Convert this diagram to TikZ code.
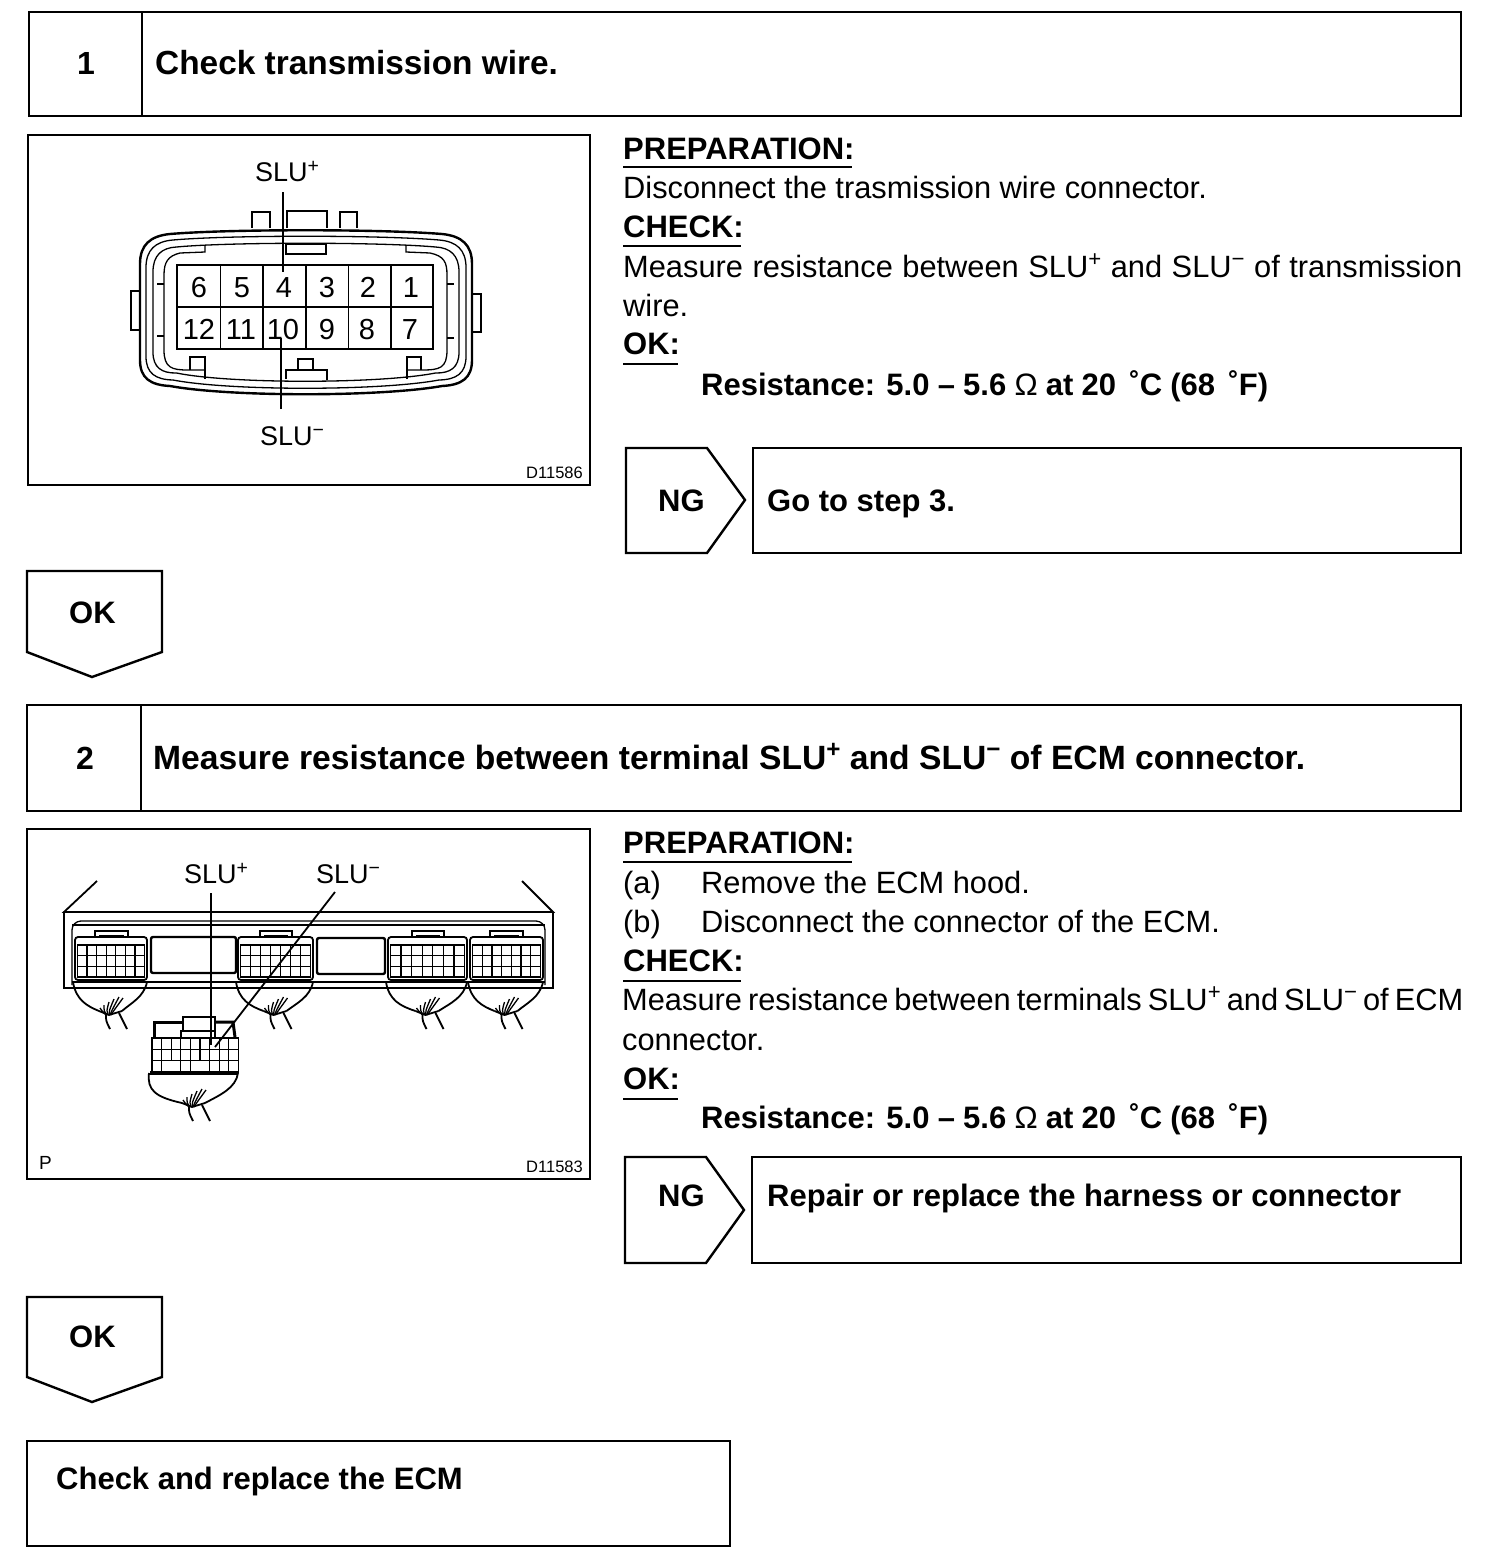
\documentclass[tikz,border=0pt]{standalone}
\usepackage{fontspec}
\setmainfont{Liberation Sans}
\newcommand{\slup}{SLU\raisebox{.33em}{\fontsize{.72em}{1em}\selectfont +}}
\newcommand{\slum}{SLU\raisebox{.33em}{\fontsize{.72em}{1em}\selectfont −}}
\newcommand{\ohm}{{\mdseries Ω}}
\tikzset{
  ln/.style={draw=black,line width=2.4pt},
  thin ln/.style={draw=black,line width=1.8pt},
  fine/.style={draw=black,line width=1.3pt},
  boxn/.style={draw=black,line width=2.4pt,inner sep=0pt,outer sep=0pt,anchor=north west},
  head/.style={anchor=base west,inner sep=0pt,font=\bfseries\fontsize{33.4}{38}\selectfont},
  headb/.style={anchor=base west,inner sep=0pt,font=\bfseries\fontsize{33.65}{38}\selectfont},
  num/.style={anchor=base,inner sep=0pt,font=\bfseries\fontsize{32}{36}\selectfont},
  body/.style={anchor=base west,inner sep=0pt,font=\fontsize{30.8}{36}\selectfont},
  bodyb/.style={anchor=base west,inner sep=0pt,font=\bfseries\fontsize{31}{36}\selectfont},
  pinno/.style={anchor=base,inner sep=0pt,font=\fontsize{29}{34}\selectfont},
  lab/.style={anchor=base,inner sep=0pt,font=\fontsize{27}{32}\selectfont},
  code/.style={anchor=base east,inner sep=0pt,font=\fontsize{16.5}{20}\selectfont},
  rule/.style={draw=black,line width=2pt},
}
% shell outline of the large connector, inset by #1
\newcommand{\shell}[2]{%
  \draw[#2] ({140+#1},{264+#1*.6}) .. controls ({140+#1},{245+#1*.8}) and ({150+#1*.9},{236+#1*.9}) .. ({170+#1*.5},{234+#1})
   .. controls ({230},{229+#1}) and ({380},{229+#1}) .. ({442-#1*.5},{234+#1})
   .. controls ({462-#1*.9},{236+#1*.9}) and ({472-#1},{245+#1*.8}) .. ({472-#1},{264+#1*.6})
   -- ({472-#1},{360-#1*.6})
   .. controls ({472-#1},{378-#1*.8}) and ({462-#1*.9},{385-#1*.9}) .. ({442-#1*.5},{386-#1})
   .. controls ({380},{397-#1}) and ({230},{397-#1}) .. ({170+#1*.5},{386-#1})
   .. controls ({150+#1*.9},{385-#1*.9}) and ({140+#1},{378-#1*.8}) .. ({140+#1},{360-#1*.6}) -- cycle;}
% pin block: x0,y0,cols,rows,cell width,cell height
\newcommand{\pinblock}[6]{%
  \draw[thin ln] (#1,#2) rectangle ({#1+#3*#5},{#2+#4*#6});
  \foreach \i in {1,...,#3} \draw[fine] ({#1+\i*#5},#2) -- ({#1+\i*#5},{#2+#4*#6});
  \foreach \j in {1,...,#4} \draw[fine] (#1,{#2+\j*#6}) -- ({#1+#3*#5},{#2+\j*#6});}
% wire bundle at x,y
\newcommand{\wirebush}[2]{%
  \foreach \dx/\ty in {-14/-3,-10/-6,-5/-9,0/-12,5/-14,9/-13}
    \draw[fine] ({#1-2+\dx*.2},{#2+4}) .. controls ({#1-2+\dx*.5},{#2}) .. ({#1+\dx+3},{#2+\ty});
  \draw[thin ln] ({#1-12},{#2}) -- ({#1-2},{#2+4}) -- ({#1+11},{#2});
  \draw[thin ln] ({#1-5},{#2+4}) .. controls ({#1-5},{#2+10}) .. ({#1-1},{#2+18});
  \draw[thin ln] ({#1+8},{#2+2}) .. controls ({#1+11},{#2+8}) .. ({#1+16},{#2+18});}
% ECM upper connector: x0,x1,tab x0,tab x1
\newcommand{\ecmconn}[4]{%
  \draw[thin ln,rounded corners=3pt] (#1,980) -- (#1,937) -- (#2,937) -- (#2,980) -- cycle;
  \draw[thin ln] (#3,937) -- (#3,931) -- (#4,931) -- (#4,937);
  \draw[fine] ({#3+4},936) -- ({#4-4},936);
  \pinblock{#1+2.5}{945}{7}{3}{(#2-#1-5)/7}{10.6}
  \draw[thin ln] ({#1-2},982) .. controls ({#1+1},1000) and ({#1+12},1006) .. ({(#1+#2)/2-12},1011);
  \draw[thin ln] ({#2},982) .. controls ({#2-3},997) and ({#2-16},1003) .. ({(#1+#2)/2+11},1011);
  \wirebush{(#1+#2)/2}{1011}}
\begin{document}
\begin{tikzpicture}[x=1pt,y=-1pt]
\useasboundingbox (0,0) rectangle (1504,1568);
\fill[white] (0,0) rectangle (1504,1568);
% ---- step 1
\node[boxn,minimum width=1432pt,minimum height=104pt] (t1) at (29,12) {};
\draw[ln] (142,12) -- (142,116);
\node[num] (n1) at (86,75) {1};
\node[head] (tt1) at (155,75) {Check transmission wire.};
\node[boxn,minimum width=562pt,minimum height=350pt] (f1) at (28,135) {};
\node[code] (c1) at (583,478) {D11586};
% connector figure
\shell{0}{ln}
\shell{6}{fine}
\shell{13}{fine}
\draw[thin ln] (252,228) -- (252,212) -- (270,212) -- (270,228);
\draw[ln] (287,228) -- (287,211) -- (327,211) -- (327,228);
\draw[thin ln] (340,228) -- (340,212) -- (357,212) -- (357,228);
\draw[thin ln] (140,291) -- (131,291) -- (131,330) -- (140,330);
\draw[thin ln] (472,294) -- (481,294) -- (481,332) -- (472,332);
\draw[thin ln] (286,244) rectangle (326,254);
\draw[fine] (205,245) -- (205,252) -- (180,253) .. controls (168,256) and (164,262) .. (164,275) -- (164,350) .. controls (164,368) and (172,370) .. (188,370) -- (205,370);
\draw[fine] (406,245) -- (406,252) -- (430,253) .. controls (444,256) and (447,262) .. (447,275) -- (447,350) .. controls (447,368) and (440,370) .. (422,370) -- (406,370);
\draw[fine] (157,284) -- (164,284) (157,336) -- (164,336) (447,284) -- (454,284) (447,338) -- (454,338);
\draw[thin ln] (190,370) -- (190,357) -- (205,357) -- (205,379);
\draw[thin ln] (407,379) -- (407,357) -- (421,357) -- (421,370);
\draw[thin ln] (298,370) -- (298,359) -- (313,359) -- (313,370);
\draw[thin ln] (286,379) -- (286,370) -- (327,370) -- (327,380);
\fill[white] (177,265) rectangle (433,349);
\draw[ln] (177,265) rectangle (433,349);
\draw[ln] (177,307) -- (433,307);
\foreach \xx in {220.7,263,306,348.5,391} \draw[fine] (\xx,265) -- (\xx,349);
\foreach \nm/\xx in {6/199,5/242,4/284,3/327,2/368,1/411} \node[pinno] (pin\nm) at (\xx,297) {\nm};
\foreach \nm/\xx in {12/199,11/241,10/283,9/327,8/367,7/410} \node[pinno] (pin\nm) at (\xx,339) {\nm};
\node[lab] (sp1) at (287,181) {\slup};
\node[lab] (sm1) at (292,445) {\slum};
\coordinate (sp1a) at (283,192); \coordinate (sp1b) at (283,272);
\coordinate (sm1a) at (281,409); \coordinate (sm1b) at (281,338);
\draw[thin ln] (sp1a) -- (sp1b);
\draw[thin ln] (sm1a) -- (sm1b);
% right text 1
\node[bodyb] (pr1) at (623,159) {PREPARATION:};
\draw[rule] (623,167) -- (852,167);
\node[body] (d1) at (623,198) {Disconnect the trasmission wire connector.};
\node[bodyb] (ch1) at (623,237) {CHECK:};
\draw[rule] (623,246) -- (741,246);
\node[body] (m1) at (623,277) {\makebox[839pt][s]{Measure resistance between \slup{} and \slum{} of transmission}};
\node[body] (w1) at (623,316) {wire.};
\node[bodyb] (ok1) at (623,354) {OK:};
\draw[rule] (623,364) -- (678,364);
\node[bodyb] (r1) at (701,395) {\makebox[567pt][s]{Resistance: 5.0 – 5.6 \ohm{} at 20 \,˚C (68 \,˚F)}};
\draw[ln] (626,448) -- (707,448) -- (745,500) -- (707,553) -- (626,553) -- cycle;
\node[bodyb] (ng1) at (658,511) {NG};
\node[boxn,minimum width=708pt,minimum height=105pt] (g1) at (753,448) {};
\node[bodyb] (g1t) at (767,511) {Go to step 3.};
\draw[ln] (27,571) -- (162,571) -- (162,652) -- (92,677) -- (27,652) -- cycle;
\node[bodyb] (okb1) at (69,623) {OK};
% ---- step 2
\node[boxn,minimum width=1434pt,minimum height=106pt] (t2) at (27,705) {};
\draw[ln] (141,705) -- (141,811);
\node[num] (n2) at (85,769) {2};
\node[headb] (tt2) at (153,769) {Measure resistance between terminal \slup{} and \slum{} of ECM connector.};
\node[boxn,minimum width=563pt,minimum height=350pt] (f2) at (27,829) {};
\node[code] (c2) at (583,1172) {D11583};
\node[anchor=base west,inner sep=0pt,font=\fontsize{19}{22}\selectfont] (pp) at (39,1169) {P};
% ECM
\draw[thin ln] (97,881) -- (64,912) -- (553,912) -- (522,881);
\draw[thin ln] (64,912) -- (64,988) -- (553,988) -- (553,912);
\draw[fine,rounded corners=9pt] (72,985) -- (72,921) -- (545,921) -- (545,985);
\draw[fine] (72,925) -- (545,925);
\draw[fine] (72,982) -- (545,982);
\draw[ln,rounded corners=2pt] (151,937) rectangle (236,973);
\draw[ln,rounded corners=2pt] (317,938) rectangle (385,974);
\ecmconn{75}{147}{95}{128}
\ecmconn{238}{313}{260}{292}
\ecmconn{388}{467}{412}{444}
\ecmconn{470}{543}{490}{523}
% lower connector
\draw[line width=3pt] (154,1037) -- (154,1022) -- (183,1022);
\draw[line width=3pt] (215,1022) -- (233,1022) -- (235,1037);
\draw[ln] (183,1030) -- (183,1017) -- (215,1017) -- (215,1030);
\draw[ln] (181,1037) -- (181,1031) -- (215,1031) -- (215,1037);
\pinblock{152}{1038}{9}{3}{9.6}{11.3}
\fill[white] (168,1061) rectangle (178,1072) (196,1061) rectangle (206,1072);
\draw[line width=3.5pt] (150,1073) -- (238,1073);
\draw[thin ln] (149,1073) .. controls (147,1090) and (155,1097) .. (182,1103);
\draw[thin ln] (238,1073) .. controls (236,1088) and (220,1095) .. (205,1103);
\wirebush{194}{1103}
% labels + leaders ECM
\node[lab] (sp2) at (216,883) {\slup};
\node[lab] (sm2) at (348,883) {\slum};
\coordinate (sp2a) at (211,893); \coordinate (sp2b) at (211,1045);
\coordinate (sm2a) at (335,892); \coordinate (sm2b) at (215,1047);
\draw[thin ln] (sp2a) -- (sp2b);
\draw[thin ln] (sm2a) -- (sm2b);
% right text 2
\node[bodyb] (pr2) at (623,853) {PREPARATION:};
\draw[rule] (623,862) -- (852,862);
\node[body] (a2) at (623,893) {(a)};
\node[body] (a2t) at (701,893) {Remove the ECM hood.};
\node[body] (b2) at (623,932) {(b)};
\node[body] (b2t) at (701,932) {Disconnect the connector of the ECM.};
\node[bodyb] (ch2) at (623,971) {CHECK:};
\draw[rule] (623,981) -- (741,981);
\node[body] (m2) at (622,1010) {\spaceskip=.1em plus 1em\relax\makebox[841pt][s]{Measure resistance between terminals \slup{} and \slum{} of ECM}};
\node[body] (w2) at (622,1050) {connector.};
\node[bodyb] (ok2) at (623,1089) {OK:};
\draw[rule] (623,1099) -- (678,1099);
\node[bodyb] (r2) at (701,1128) {\makebox[567pt][s]{Resistance: 5.0 – 5.6 \ohm{} at 20 \,˚C (68 \,˚F)}};
\draw[ln] (625,1157) -- (706,1157) -- (744,1210) -- (706,1263) -- (625,1263) -- cycle;
\node[bodyb] (ng2) at (658,1206) {NG};
\node[boxn,minimum width=709pt,minimum height=106pt] (g2) at (752,1157) {};
\node[bodyb] (g2t) at (767,1206) {Repair or replace the harness or connector};
\draw[ln] (27,1297) -- (162,1297) -- (162,1377) -- (92,1402) -- (27,1377) -- cycle;
\node[bodyb] (okb2) at (69,1347) {OK};
\node[boxn,minimum width=703pt,minimum height=105pt] (fin) at (27,1441) {};
\node[bodyb] (fint) at (56,1489) {Check and replace the ECM};
\end{tikzpicture}
\end{document}
